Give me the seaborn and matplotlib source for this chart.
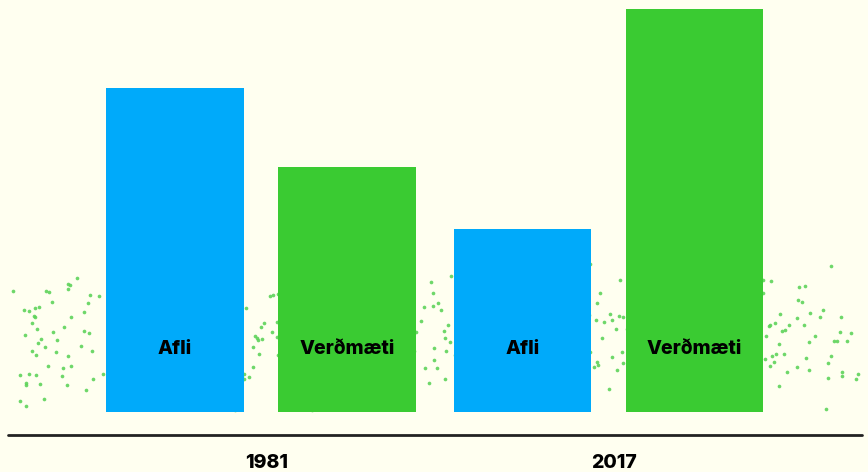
import numpy as np
import pandas as pd
import matplotlib
matplotlib.use("Agg")
import matplotlib.pyplot as plt
import seaborn as sb

# values (bar heights, relative units)
years = ["1981", "2017"]
kinds = ["Afli", "Verðmæti"]
afli = [324, 183]
verdmaeti = [245, 403]

bg = "#FFFFF0"
colors = {"Afli": "#00AAFA", "Verðmæti": "#3ACB32"}


def main():
    df = pd.DataFrame({
        "year": years * 2,
        "kind": [kinds[0]] * 2 + [kinds[1]] * 2,
        "value": afli + verdmaeti,
    })

    sb.set_theme(style="white")
    plt.rcParams["font.family"] = ["Inter", "DejaVu Sans"]

    fig = plt.figure(figsize=(8.68, 4.72), dpi=100, facecolor=bg)
    ax = fig.add_axes([0, 0, 1, 1])
    ax.set_facecolor(bg)

    # decorative speckle behind the bars
    rng = np.random.default_rng(11)
    n = 480
    sx = rng.uniform(-0.72, 1.72, n)
    sy = rng.normal(78, 36, n)
    keep = (sy > 2) & (sy < 150)
    ax.scatter(sx[keep], sy[keep], s=7, color="#5ED35A", alpha=0.9,
               linewidths=0, zorder=1)

    sb.barplot(data=df, x="year", y="value", hue="kind", hue_order=kinds,
               order=years, palette=colors, saturation=1, width=0.99,
               gap=0.2, linewidth=0, legend=False, ax=ax, zorder=2)

    for cont, kind in zip(ax.containers, kinds):
        for bar in cont:
            ax.text(bar.get_x() + bar.get_width() / 2, 63, kind,
                    ha="center", va="center", fontsize=14,
                    fontweight="heavy", color="black", zorder=3)

    ax.axhline(-23, xmin=8 / 868, xmax=862 / 868, color="#222222", lw=2)
    for i, y in enumerate(years):
        ax.text(i + 0.015, -51, y, ha="center", va="center", fontsize=14,
                fontweight="heavy", color="black")

    ax.set_xlim(-0.751, 1.747)
    ax.set_ylim(-60, 412)
    ax.axis("off")

    fig.savefig("out.png", dpi=100, facecolor=bg)


if __name__ == "__main__":
    main()
